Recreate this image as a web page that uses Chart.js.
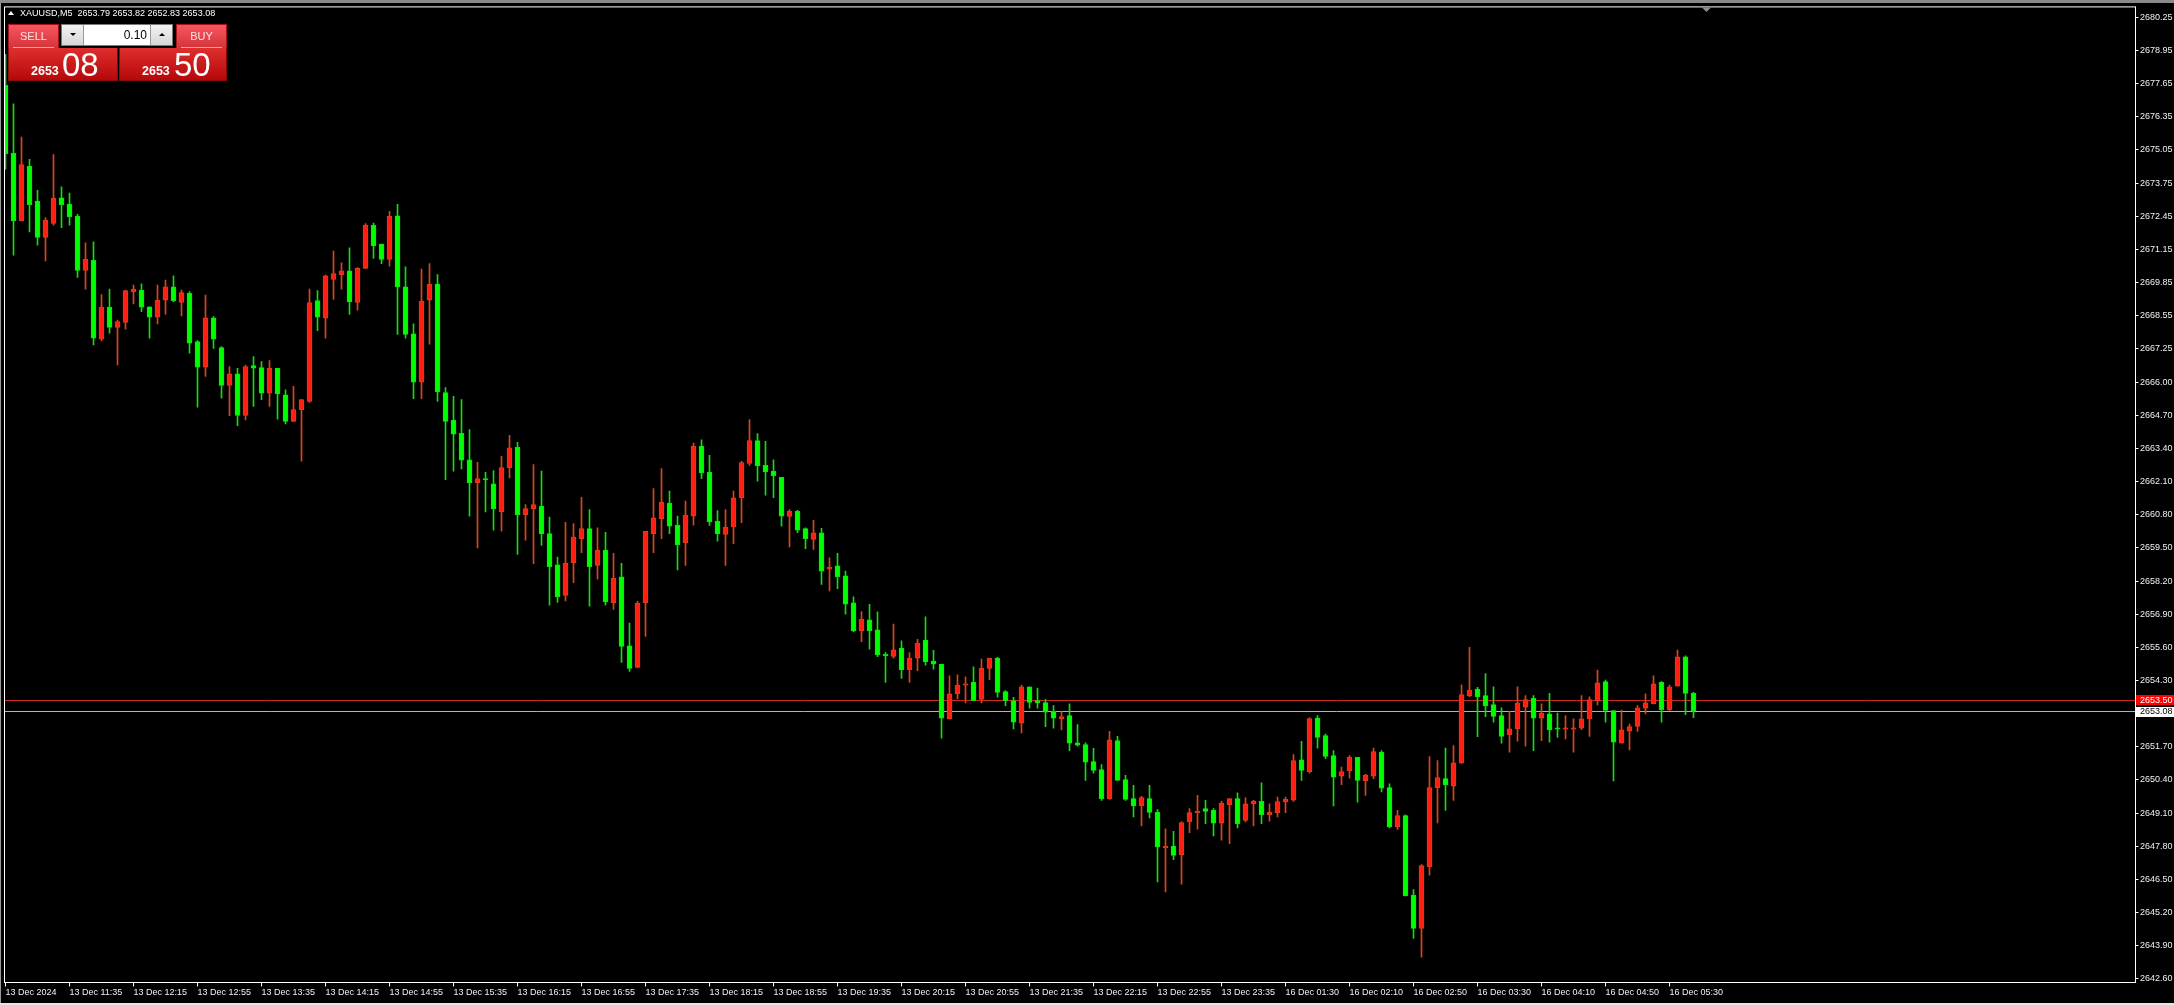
<!DOCTYPE html>
<html>
<head>
<meta charset="utf-8">
<title>XAUUSD,M5</title>
<script src="https://cdn.jsdelivr.net/npm/chart.js@4.4.1/dist/chart.umd.min.js"></script>
<style>
  html, body { margin: 0; padding: 0; background: #000; overflow: hidden; }
  #wrap { position: relative; width: 2174px; height: 1005px; background: #000; }
  #c { position: absolute; left: 0; top: 0; }
  #topband { position: absolute; left: 0; top: 0; width: 2174px; height: 3px; background: #8a8a8a; }
  #botband { position: absolute; left: 0; top: 1003px; width: 2174px; height: 2px; background: #e6e6e6; }
  #leftband { position: absolute; left: 0; top: 3px; width: 1px; height: 1000px; background: #9a9a9a; }
  #tri { position: absolute; left: 8px; top: 11px; width: 0; height: 0;
    border-left: 3px solid transparent; border-right: 3px solid transparent; border-bottom: 4px solid #fff; }
  #hdr { position: absolute; left: 20px; top: 8px; font: 9px "Liberation Sans", Arial, sans-serif;
    line-height: 10px; color: #fff; white-space: pre; }
  .tab { position: absolute; top: 24px; height: 24px; box-sizing: border-box;
    background: linear-gradient(#f5585e, #d6323a); border: 1px solid #a5141a; border-bottom: none;
    color: #ffe4e4; font: 11px "Liberation Sans", Arial, sans-serif; line-height: 23px; text-align: center; }
  .tab::after { content: ""; position: absolute; left: 4px; right: 4px; bottom: 0; height: 1px; background: #ff9c9c; }
  #sell { left: 8px; width: 51px; }
  #buy { left: 176px; width: 51px; }
  .price { position: absolute; top: 48px; height: 33px; box-sizing: border-box;
    background: linear-gradient(#e02e2e, #b40909); border: 1px solid #8c0a0a; border-top: none;
    color: #fff; font-family: "Liberation Sans", Arial, sans-serif; }
  #sellp { left: 8px; width: 110px; }
  #buyp { left: 119px; width: 108px; }
  .price .sm { position: absolute; top: 17px; font-weight: bold; font-size: 12.5px; line-height: 12.5px; }
  .price .big { position: absolute; top: 0; font-size: 33px; line-height: 33px; }
  #sellp .sm { left: 22px; } #sellp .big { left: 53px; }
  #buyp .sm { left: 22px; } #buyp .big { left: 54px; }
  #lot { position: absolute; left: 61px; top: 24px; width: 112px; height: 22px; box-sizing: border-box;
    border: 1px solid #7a7a7a; background: #fff; }
  #lot .btn { position: absolute; top: 0; width: 21px; height: 20px; background: linear-gradient(#f3f3f3, #d6d6d6); }
  #lot .dn { left: 0; border-right: 1px solid #9a9a9a; }
  #lot .up { right: 0; border-left: 1px solid #9a9a9a; }
  #lot .dn::after, #lot .up::after { content: ""; position: absolute; left: 8px; top: 8px; width: 0; height: 0;
    border-left: 3px solid transparent; border-right: 3px solid transparent; }
  #lot .dn::after { border-top: 3px solid #000; }
  #lot .up::after { border-bottom: 3px solid #000; }
  #lot .val { position: absolute; left: 22px; right: 22px; top: 0; height: 20px; padding-right: 3px;
    text-align: right; font: 12px "Liberation Sans", Arial, sans-serif; line-height: 21px; color: #000; }
</style>
</head>
<body>
<div id="wrap">
  <canvas id="c" width="2174" height="1005"></canvas>
  <div id="topband"></div>
  <div id="botband"></div>
  <div id="leftband"></div>
  <div id="tri"></div>
  <div id="hdr"></div>
  <div class="tab" id="sell">SELL</div>
  <div id="lot"><div class="btn dn"></div><div class="val">0.10</div><div class="btn up"></div></div>
  <div class="tab" id="buy">BUY</div>
  <div class="price" id="sellp"><span class="sm"></span><span class="big"></span></div>
  <div class="price" id="buyp"><span class="sm"></span><span class="big"></span></div>
</div>
<script>
const symbol = "XAUUSD,M5";
const lotSize = "0.10";
const bidPrice = 2653.08;
const askPrice = 2653.50;

// M5 bars, 13 Dec 10:55 .. 16 Dec 05:45
const opens = [
  2677.59, 2674.94, 2672.28, 2674.42, 2673.06, 2671.63, 2672.18, 2673.18, 2672.94, 2672.46,
  2670.34, 2670.74, 2667.65, 2668.91, 2668.11, 2668.31, 2669.51, 2669.57, 2668.92, 2668.51,
  2669.18, 2669.70, 2669.09, 2669.44, 2667.56, 2666.55, 2668.49, 2667.32, 2665.84, 2666.29,
  2664.66, 2666.62, 2666.54, 2665.54, 2666.51, 2665.47, 2664.43, 2664.89, 2665.21, 2669.16,
  2668.47, 2669.99, 2670.18, 2670.33, 2669.09, 2670.42, 2672.11, 2671.37, 2670.77, 2672.48,
  2669.70, 2667.86, 2665.97, 2669.18, 2669.81, 2665.56, 2664.47, 2663.97, 2662.93, 2662.02,
  2662.19, 2661.99, 2660.90, 2662.61, 2663.41, 2660.77, 2661.00, 2661.10, 2660.04, 2658.81,
  2657.62, 2658.90, 2659.84, 2660.23, 2658.79, 2659.39, 2657.33, 2658.34, 2655.64, 2654.80,
  2657.33, 2660.03, 2660.62, 2661.23, 2660.37, 2659.68, 2660.72, 2663.45, 2662.44, 2660.53,
  2660.00, 2660.30, 2661.44, 2662.78, 2663.68, 2662.71, 2662.48, 2662.24, 2660.71, 2660.91,
  2660.23, 2659.81, 2660.07, 2658.64, 2658.77, 2658.38, 2657.33, 2656.23, 2656.66, 2656.27,
  2655.32, 2655.23, 2655.55, 2654.71, 2655.16, 2655.87, 2655.05, 2654.93, 2652.78, 2653.76,
  2654.10, 2654.21, 2653.54, 2654.76, 2655.16, 2653.85, 2653.50, 2652.61, 2654.04, 2653.50,
  2653.42, 2653.08, 2652.78, 2652.91, 2651.84, 2651.78, 2651.11, 2650.80, 2649.66, 2651.93,
  2650.41, 2649.66, 2649.37, 2649.66, 2649.12, 2647.73, 2647.79, 2647.47, 2648.75, 2649.11,
  2649.27, 2649.20, 2648.70, 2649.42, 2649.66, 2648.81, 2649.46, 2649.55, 2649.03, 2649.11,
  2649.53, 2649.60, 2651.18, 2650.72, 2652.81, 2652.13, 2651.35, 2650.54, 2650.74, 2651.28,
  2650.35, 2650.54, 2651.48, 2650.09, 2648.55, 2649.00, 2645.88, 2644.58, 2646.99, 2650.09,
  2650.44, 2650.15, 2651.05, 2653.69, 2653.95, 2653.69, 2653.34, 2652.91, 2652.16, 2652.39,
  2653.24, 2653.60, 2652.81, 2652.98, 2652.43, 2652.38, 2652.38, 2652.42, 2652.78, 2653.50,
  2654.24, 2653.11, 2651.83, 2652.30, 2652.49, 2653.20, 2653.37, 2654.21, 2653.13, 2654.06,
  2655.21, 2653.79
];
const highs = [
  2678.80, 2676.86, 2675.56, 2674.69, 2673.48, 2672.41, 2674.88, 2673.61, 2673.37, 2672.54,
  2671.42, 2671.46, 2669.40, 2669.61, 2668.40, 2669.57, 2669.77, 2669.82, 2668.92, 2669.77,
  2669.96, 2670.13, 2669.57, 2669.51, 2667.59, 2669.38, 2668.53, 2667.36, 2666.58, 2666.51,
  2666.64, 2666.97, 2666.77, 2666.81, 2666.51, 2665.67, 2665.80, 2665.28, 2669.61, 2669.55,
  2670.16, 2671.10, 2670.64, 2671.23, 2670.45, 2672.18, 2672.20, 2671.37, 2672.66, 2672.93,
  2670.48, 2668.25, 2670.39, 2670.61, 2670.18, 2665.75, 2665.41, 2665.28, 2664.11, 2662.83,
  2662.44, 2662.50, 2663.06, 2663.88, 2663.61, 2661.17, 2662.74, 2662.48, 2660.68, 2659.12,
  2660.48, 2660.43, 2661.46, 2660.98, 2660.26, 2660.09, 2659.26, 2658.87, 2656.53, 2657.38,
  2660.13, 2661.80, 2662.58, 2661.70, 2660.72, 2661.31, 2663.58, 2663.71, 2663.10, 2660.94,
  2660.98, 2661.70, 2662.87, 2664.50, 2663.95, 2663.65, 2662.93, 2662.24, 2660.98, 2660.95,
  2660.26, 2660.56, 2660.24, 2659.09, 2659.26, 2658.57, 2657.56, 2656.98, 2657.27, 2656.97,
  2655.38, 2656.49, 2655.84, 2655.38, 2655.90, 2656.78, 2655.47, 2654.93, 2654.47, 2654.51,
  2654.43, 2654.82, 2655.12, 2655.16, 2655.19, 2653.89, 2653.63, 2654.11, 2654.04, 2653.99,
  2653.54, 2653.30, 2653.07, 2653.37, 2652.56, 2651.84, 2651.63, 2650.99, 2652.29, 2652.10,
  2650.57, 2650.18, 2649.75, 2650.18, 2649.23, 2648.48, 2648.38, 2648.75, 2649.27, 2649.79,
  2649.59, 2649.27, 2649.55, 2649.66, 2649.89, 2649.70, 2649.59, 2650.28, 2649.46, 2649.72,
  2649.72, 2651.38, 2651.90, 2652.82, 2652.91, 2652.19, 2651.54, 2650.89, 2651.35, 2651.28,
  2650.61, 2651.64, 2651.54, 2650.24, 2649.20, 2649.03, 2646.10, 2647.08, 2651.31, 2651.15,
  2651.64, 2651.74, 2654.12, 2655.58, 2654.02, 2654.56, 2654.04, 2653.21, 2653.08, 2654.04,
  2653.69, 2653.69, 2653.37, 2653.78, 2653.01, 2652.91, 2652.78, 2653.69, 2653.65, 2654.69,
  2654.30, 2653.11, 2653.13, 2652.58, 2653.30, 2653.76, 2654.47, 2654.24, 2654.11, 2655.48,
  2655.25, 2653.82
];
const lows = [
  2674.31, 2670.94, 2672.28, 2671.85, 2671.33, 2670.71, 2672.11, 2672.02, 2672.11, 2670.07,
  2669.61, 2667.42, 2667.58, 2667.88, 2666.64, 2668.04, 2669.03, 2668.73, 2667.69, 2668.25,
  2668.62, 2669.12, 2668.56, 2667.10, 2664.99, 2666.19, 2667.29, 2665.34, 2664.65, 2664.26,
  2664.49, 2665.02, 2665.28, 2665.02, 2664.52, 2664.33, 2664.43, 2662.87, 2665.17, 2667.98,
  2667.69, 2669.21, 2669.61, 2668.62, 2668.79, 2670.42, 2670.81, 2670.61, 2670.51, 2667.84,
  2667.69, 2665.32, 2665.32, 2667.45, 2665.21, 2662.15, 2662.48, 2662.57, 2660.72, 2659.48,
  2660.89, 2660.17, 2660.13, 2662.22, 2659.22, 2659.78, 2658.86, 2659.57, 2657.23, 2657.34,
  2657.40, 2658.12, 2659.29, 2657.20, 2658.25, 2657.23, 2657.07, 2654.99, 2654.64, 2654.80,
  2656.01, 2659.29, 2659.84, 2660.03, 2658.61, 2658.79, 2660.37, 2662.19, 2660.36, 2659.74,
  2658.79, 2659.64, 2660.46, 2662.71, 2662.09, 2661.54, 2661.44, 2660.33, 2659.52, 2660.07,
  2659.45, 2659.42, 2658.05, 2657.79, 2657.88, 2656.88, 2656.20, 2655.81, 2655.51, 2655.22,
  2654.21, 2655.16, 2654.37, 2654.21, 2654.67, 2654.89, 2654.73, 2652.03, 2652.78, 2653.56,
  2653.41, 2653.50, 2653.41, 2654.32, 2653.63, 2653.30, 2652.39, 2652.23, 2653.20, 2653.20,
  2652.48, 2652.42, 2652.35, 2651.54, 2651.71, 2650.37, 2650.66, 2649.59, 2649.63, 2650.37,
  2649.59, 2648.94, 2648.59, 2648.90, 2646.40, 2646.01, 2647.27, 2646.31, 2648.33, 2648.46,
  2648.68, 2648.20, 2648.03, 2647.90, 2648.51, 2648.75, 2648.59, 2648.68, 2648.78, 2648.94,
  2649.11, 2649.55, 2650.37, 2650.66, 2651.64, 2651.22, 2649.37, 2650.21, 2650.46, 2649.52,
  2649.79, 2650.44, 2649.92, 2648.52, 2648.45, 2645.85, 2644.19, 2643.45, 2646.66, 2648.71,
  2649.20, 2649.59, 2651.05, 2653.65, 2652.09, 2652.87, 2652.65, 2651.83, 2651.48, 2651.91,
  2651.71, 2651.54, 2651.93, 2651.87, 2652.06, 2652.00, 2651.48, 2652.36, 2652.10, 2653.33,
  2652.65, 2650.35, 2651.83, 2651.57, 2652.29, 2652.98, 2653.37, 2652.65, 2653.11, 2654.06,
  2652.95, 2652.83
];
const closes = [
  2674.91, 2672.28, 2674.49, 2672.92, 2671.63, 2672.31, 2673.17, 2672.92, 2672.45, 2670.34,
  2670.78, 2667.69, 2668.91, 2668.11, 2668.34, 2669.55, 2669.60, 2668.90, 2668.51, 2669.18,
  2669.70, 2669.16, 2669.47, 2667.49, 2666.55, 2668.49, 2667.65, 2665.84, 2666.29, 2664.66,
  2666.58, 2666.51, 2665.54, 2666.51, 2665.51, 2664.43, 2664.89, 2665.28, 2669.08, 2668.51,
  2670.13, 2670.22, 2670.33, 2669.12, 2670.42, 2672.11, 2671.31, 2670.77, 2672.46, 2669.70,
  2667.84, 2665.97, 2669.14, 2669.81, 2665.58, 2664.43, 2663.93, 2662.91, 2662.02, 2662.19,
  2662.14, 2661.00, 2662.62, 2663.40, 2660.77, 2661.02, 2661.17, 2660.03, 2658.74, 2657.56,
  2658.87, 2659.90, 2660.23, 2658.74, 2659.39, 2657.36, 2658.29, 2655.62, 2654.76, 2657.31,
  2660.13, 2660.65, 2661.27, 2660.33, 2659.59, 2660.76, 2663.45, 2662.41, 2660.49, 2660.03,
  2660.29, 2661.44, 2662.82, 2663.68, 2662.70, 2662.45, 2662.31, 2660.72, 2660.91, 2660.17,
  2659.84, 2660.07, 2658.57, 2658.73, 2658.35, 2657.27, 2656.23, 2656.68, 2656.23, 2655.29,
  2655.25, 2655.49, 2654.71, 2655.16, 2655.75, 2655.02, 2654.92, 2652.81, 2653.76, 2654.11,
  2654.15, 2653.50, 2654.77, 2655.16, 2653.82, 2653.50, 2652.65, 2654.04, 2653.43, 2653.41,
  2653.04, 2652.81, 2652.87, 2651.83, 2651.75, 2651.09, 2650.76, 2649.66, 2651.96, 2650.37,
  2649.63, 2649.37, 2649.70, 2649.12, 2647.77, 2647.79, 2647.44, 2648.72, 2649.11, 2649.16,
  2649.16, 2648.70, 2649.49, 2649.66, 2648.68, 2649.46, 2649.55, 2649.03, 2649.12, 2649.54,
  2649.63, 2651.15, 2650.76, 2652.79, 2652.06, 2651.31, 2650.50, 2650.72, 2651.28, 2650.37,
  2650.57, 2651.50, 2650.07, 2648.55, 2649.00, 2645.85, 2644.58, 2647.04, 2650.09, 2650.48,
  2650.20, 2651.06, 2653.73, 2653.91, 2653.65, 2653.30, 2652.88, 2652.10, 2652.39, 2653.40,
  2653.54, 2652.81, 2653.01, 2652.35, 2652.38, 2652.43, 2652.43, 2652.78, 2653.54, 2654.19,
  2653.11, 2651.87, 2652.35, 2652.48, 2653.21, 2653.41, 2654.15, 2653.14, 2654.04, 2655.21,
  2653.78, 2653.08
];

// time labels, one every 8 bars
const xLabels = [
  "13 Dec 2024", "13 Dec 11:35", "13 Dec 12:15", "13 Dec 12:55", "13 Dec 13:35", "13 Dec 14:15",
  "13 Dec 14:55", "13 Dec 15:35", "13 Dec 16:15", "13 Dec 16:55", "13 Dec 17:35", "13 Dec 18:15",
  "13 Dec 18:55", "13 Dec 19:35", "13 Dec 20:15", "13 Dec 20:55", "13 Dec 21:35", "13 Dec 22:15",
  "13 Dec 22:55", "13 Dec 23:35", "16 Dec 01:30", "16 Dec 02:10", "16 Dec 02:50", "16 Dec 03:30",
  "16 Dec 04:10", "16 Dec 04:50", "16 Dec 05:30"
];
const labelEvery = 8;

// price scale labels, top to bottom
const yLabels = [
  "2680.25", "2678.95", "2677.65", "2676.35", "2675.05", "2673.75", "2672.45", "2671.15",
  "2669.85", "2668.55", "2667.25", "2666.00", "2664.70", "2663.40", "2662.10", "2660.80",
  "2659.50", "2658.20", "2656.90", "2655.60", "2654.30", "2653.00", "2651.70", "2650.40",
  "2649.10", "2647.80", "2646.50", "2645.20", "2643.90", "2642.60"
];

const yMin = 2642.46, yMax = 2680.66;
const xMin = -0.125, xMax = 266.25;
const shiftMark = 212.625;

const upBody = "#ff1e0f", upEdge = "#e03c1c", upWick = "#d8461e";
const dnBody = "#00ff00", dnEdge = "#10e010", dnWick = "#16d816";
const fontFamily = "'Liberation Sans', Arial, sans-serif";

const idx = opens.map((_, i) => i);
const isUp = idx.map(i => closes[i] >= opens[i]);
const yTop = parseFloat(yLabels[0]);
const yStep = (yTop - parseFloat(yLabels[yLabels.length - 1])) / (yLabels.length - 1);

// header + one-click panel text
const last = opens.length - 1;
document.getElementById("hdr").textContent = symbol + "  " +
  [opens[last], highs[last], lows[last], closes[last]].map(v => v.toFixed(2)).join(" ");
function fillPrice(id, p) {
  const s = p.toFixed(2);
  document.querySelector(id + " .sm").textContent = s.slice(0, 4);
  document.querySelector(id + " .big").textContent = s.slice(5);
}
fillPrice("#sellp", bidPrice);
fillPrice("#buyp", askPrice);
document.querySelector("#lot .val").textContent = lotSize;

const overlay = {
  id: "overlay",
  beforeDatasetsDraw(chart) {
    const { ctx, chartArea: a, scales: { y } } = chart;
    ctx.save();
    ctx.lineWidth = 1;
    const ya = Math.floor(y.getPixelForValue(askPrice)) + 0.5;
    const yb = Math.floor(y.getPixelForValue(bidPrice)) + 0.5;
    ctx.strokeStyle = "#c8281e";
    ctx.beginPath(); ctx.moveTo(a.left, ya); ctx.lineTo(a.right, ya); ctx.stroke();
    ctx.strokeStyle = "#b4b4b4";
    ctx.beginPath(); ctx.moveTo(a.left, yb); ctx.lineTo(a.right, yb); ctx.stroke();
    ctx.restore();
  },
  afterDraw(chart) {
    const { ctx, chartArea: a, scales: { x, y } } = chart;
    ctx.save();
    // frame
    ctx.strokeStyle = "#ffffff";
    ctx.lineWidth = 1;
    ctx.strokeRect(a.left, a.top, a.right - a.left, a.bottom - a.top);
    // ask / bid price tags
    ctx.font = "9px " + fontFamily;
    ctx.textBaseline = "middle";
    const ya = Math.floor(y.getPixelForValue(askPrice));
    const yb = Math.floor(y.getPixelForValue(bidPrice));
    ctx.fillStyle = "#ff0000";
    ctx.fillRect(a.right + 0.5, ya - 5, 40, 10);
    ctx.fillStyle = "#ffffff";
    ctx.fillText(askPrice.toFixed(2), a.right + 4.5, ya + 0.5);
    ctx.fillStyle = "#ffffff";
    ctx.fillRect(a.right + 0.5, yb - 4, 40, 10);
    ctx.fillStyle = "#000000";
    ctx.fillText(bidPrice.toFixed(2), a.right + 4.5, yb + 1);
    // chart shift marker
    const sx = x.getPixelForValue(shiftMark);
    ctx.fillStyle = "#8c8c8c";
    ctx.beginPath();
    ctx.moveTo(sx - 4.5, a.top + 0.5);
    ctx.lineTo(sx + 4.5, a.top + 0.5);
    ctx.lineTo(sx, a.top + 5);
    ctx.closePath();
    ctx.fill();
    ctx.restore();
  }
};

new Chart(document.getElementById("c"), {
  type: "bar",
  data: {
    datasets: [
      {
        label: "wick",
        data: idx.map(i => ({ x: i, y: [lows[i], highs[i]] })),
        backgroundColor: idx.map(i => isUp[i] ? upWick : dnWick),
        barThickness: 1,
        grouped: false,
        order: 2
      },
      {
        label: "body",
        data: idx.map(i => ({ x: i, y: [opens[i], closes[i]] })),
        backgroundColor: idx.map(i => isUp[i] ? upBody : dnBody),
        borderColor: idx.map(i => isUp[i] ? upEdge : dnEdge),
        borderWidth: 1,
        borderSkipped: false,
        barThickness: 5,
        minBarLength: 1,
        grouped: false,
        order: 1
      }
    ]
  },
  options: {
    responsive: false,
    animation: false,
    devicePixelRatio: 1,
    events: [],
    layout: { padding: { left: 4.5, top: 4.5, right: 0, bottom: 0 } },
    plugins: { legend: { display: false }, tooltip: { enabled: false } },
    scales: {
      x: {
        type: "linear",
        offset: false,
        min: xMin,
        max: xMax,
        afterFit: s => { s.height = 22.5; },
        afterBuildTicks: s => { s.ticks = xLabels.map((_, k) => ({ value: k * labelEvery })); },
        ticks: {
          callback: (v, k) => xLabels[k],
          align: "start",
          autoSkip: false,
          maxRotation: 0,
          minRotation: 0,
          padding: 1,
          color: "#f0f0f0",
          font: { family: fontFamily, size: 9 }
        },
        grid: { offset: false, drawOnChartArea: false, tickLength: 4, color: "#ffffff" },
        border: { display: false }
      },
      y: {
        position: "right",
        min: yMin,
        max: yMax,
        afterFit: s => { s.width = 38.5; },
        afterBuildTicks: s => { s.ticks = yLabels.map((_, k) => ({ value: yTop - k * yStep })); },
        ticks: {
          callback: (v, k) => yLabels[k],
          autoSkip: false,
          padding: 1.5,
          color: "#f0f0f0",
          font: { family: fontFamily, size: 9 }
        },
        grid: { drawOnChartArea: false, tickLength: 3, color: "#ffffff" },
        border: { display: false }
      }
    }
  },
  plugins: [overlay]
});
</script>
</body>
</html>
